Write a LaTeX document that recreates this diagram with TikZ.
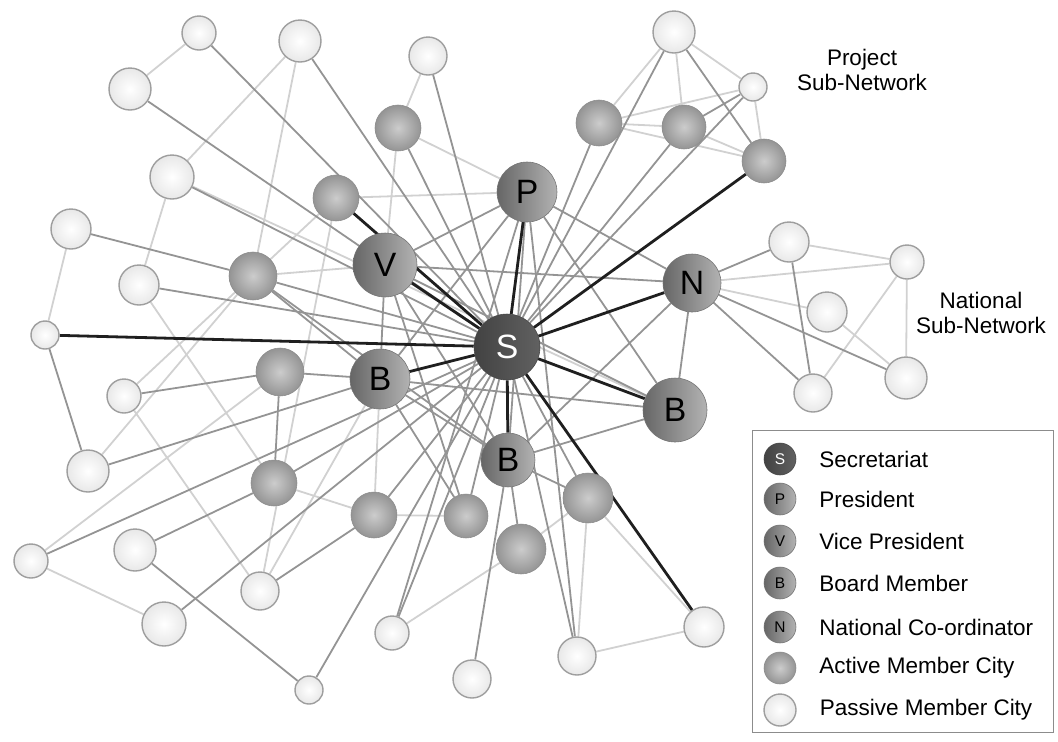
\documentclass[tikz,border=0pt]{standalone}
\usepackage{fontspec}
\setmainfont{Liberation Sans}
\usetikzlibrary{positioning}
\pgfdeclarelayer{bg}
\pgfsetlayers{bg,main}

\tikzset{
  city/.style={circle, inner sep=0pt, minimum size=#1*0.5mm},
  hub/.style={city=#1, draw=black!55, left color=black!60, right color=black!30, font=\fontsize{24}{24}\selectfont},
  sec/.style={city=#1, draw=black!72, left color=black!74, right color=black!62, text=white, font=\fontsize{24}{24}\selectfont},
  act/.style={city=#1, draw=black!45, inner color=black!20, outer color=black!42},
  pas/.style={city=#1, draw=black!38, inner color=white, outer color=black!9, line width=0.35mm},
  lg/.style={font=\fontsize{11}{11}\selectfont},
  lgtext/.style={font=\fontsize{16}{18}\selectfont, inner sep=0pt},
  dk/.style={black!88, line width=0.7mm},
  md/.style={black!42, line width=0.45mm},
  lt/.style={black!18, line width=0.45mm},
}

\begin{document}
\begin{tikzpicture}[x=0.25mm,y=-0.25mm]
\useasboundingbox (0,0) rectangle (1058,741);

% board and secretariat
\node[sec=33] (S) at (507,347) {S};
\node[hub=30] (P) at (527,192) {P};
\node[hub=32] (V) at (385,265) {V};
\node[hub=29] (N) at (692,283) {N};
\node[hub=30] (Ba) at (380,379) {B};
\node[hub=32] (Bb) at (675,410) {B};
\node[hub=27] (Bc) at (508,460) {B};

% active member cities
\node[act=23] (a1) at (398,128) {};
\node[act=23] (a2) at (599,123) {};
\node[act=22] (a3) at (684,127) {};
\node[act=22] (a4) at (764,161) {};
\node[act=23] (a5) at (336,198) {};
\node[act=24] (a6) at (253,276) {};
\node[act=24] (a7) at (280,372) {};
\node[act=23] (a8) at (274,483) {};
\node[act=23] (a9) at (374,515) {};
\node[act=22] (a10) at (466,516) {};
\node[act=25] (a11) at (521,549) {};
\node[act=25] (a12) at (588,498) {};

% passive member cities
\node[pas=17] (c1) at (199,33) {};
\node[pas=21] (c2) at (300,41) {};
\node[pas=21] (c3) at (130,89) {};
\node[pas=19] (c4) at (428,56) {};
\node[pas=21] (c5) at (674,32) {};
\node[pas=14] (c6) at (753,87) {};
\node[pas=22] (c7) at (172,177) {};
\node[pas=20] (c8) at (71,229) {};
\node[pas=20] (c9) at (139,285) {};
\node[pas=14] (c10) at (45,335) {};
\node[pas=17] (c11) at (124,396) {};
\node[pas=21] (c12) at (88,471) {};
\node[pas=17] (c13) at (31,561) {};
\node[pas=21] (c14) at (135,550) {};
\node[pas=22] (c15) at (164,624) {};
\node[pas=19] (c16) at (260,591) {};
\node[pas=14] (c17) at (309,690) {};
\node[pas=17] (c18) at (392,633) {};
\node[pas=19] (c19) at (472,679) {};
\node[pas=19] (c20) at (577,656) {};
\node[pas=20] (c21) at (704,627) {};
\node[pas=20] (c22) at (789,242) {};
\node[pas=17] (c23) at (907,262) {};
\node[pas=20] (c24) at (827,312) {};
\node[pas=19] (c25) at (813,393) {};
\node[pas=21] (c26) at (906,378) {};

\begin{pgfonlayer}{bg}
% light links
\draw[lt] (c1)--(c3) (c2)--(c7) (c2)--(a6) (c7)--(c9) (c8)--(c10) (c9)--(a8);
\draw[lt] (c11)--(c16) (c11)--(a5) (c12)--(a6) (c13)--(c15) (c13)--(a7);
\draw[lt] (c16)--(Ba) (a5)--(c16) (c7)--(Bb) (a1)--(c4) (a1)--(P) (a1)--(V) (a5)--(P);
\draw[lt] (a2)--(c5) (a2)--(a3) (a2)--(c6) (a2)--(a4) (a3)--(c5) (a3)--(a4) (a4)--(c6) (c5)--(c6);
\draw[lt] (a6)--(V) (a8)--(a9) (a9)--(a10) (a9)--(Ba) (c18)--(a11) (a11)--(a12);
\draw[lt] (a12)--(c20) (a12)--(c21) (c20)--(c21);
\draw[lt] (N)--(c23) (N)--(c24) (c22)--(c23) (c23)--(c25) (c23)--(c26) (c24)--(c26);
% mid links
\draw[md] (S)--(c1) (S)--(c2) (S)--(c3) (S)--(c4) (S)--(c5) (S)--(c6) (S)--(a1) (S)--(a2) (S)--(a3);
\draw[md] (S)--(c7) (S)--(a6) (S)--(c9) (S)--(c13) (S)--(c15) (S)--(c17) (S)--(c18) (S)--(c20);
\draw[md] (S)--(a8) (S)--(a9) (S)--(a10) (S)--(a12);
\draw[md] (P)--(V) (P)--(N) (P)--(Bb) (P)--(Ba) (P)--(Bc) (P)--(c18) (P)--(c20);
\draw[md] (V)--(N) (V)--(Ba) (V)--(Bc) (V)--(Bb) (V)--(a10);
\draw[md] (Ba)--(a7) (Ba)--(c12) (Ba)--(Bb) (Ba)--(Bc) (Ba)--(a10) (Ba)--(a6);
\draw[md] (N)--(Bb) (N)--(Bc) (N)--(c22) (N)--(c25) (N)--(c26) (c22)--(c25);
\draw[md] (Bb)--(Bc) (Bc)--(a11) (Bc)--(a12) (Bc)--(c19) (a6)--(Bc);
\draw[md] (a3)--(c6) (a4)--(c5) (c8)--(a6) (c10)--(c12) (c11)--(a7) (a7)--(a8);
\draw[md] (c14)--(a8) (c14)--(c17) (c16)--(a9);
% secretariat links
\draw[dk] (S)--(P) (S)--(V) (S)--(a5) (S)--(N) (S)--(Ba) (S)--(Bb) (S)--(Bc);
\draw[dk] (S)--(c10) (S)--(a4) (S)--(c21);
\end{pgfonlayer}

% sub-network labels
\node[lgtext, align=center] (proj) at (862,70) {Project\\Sub-Network};
\node[lgtext, align=center] (natl) at (981,313) {National\\Sub-Network};

% legend
\draw[black!45, line width=0.25mm] (752,430) rectangle (1053,732);
\node[sec=16, lg] (lgS) at (780,459) {S};
\node[hub=16, lg] (lgP) at (780,499) {P};
\node[hub=16, lg] (lgV) at (780,541) {V};
\node[hub=16, lg] (lgB) at (780,583) {B};
\node[hub=16, lg] (lgN) at (780,627) {N};
\node[act=16] (lgA) at (780,668) {};
\node[pas=16] (lgC) at (780,710) {};
\node[lgtext, right=5.7mm of lgS] {Secretariat};
\node[lgtext, right=5.7mm of lgP] {President};
\node[lgtext, right=5.7mm of lgV] {Vice President};
\node[lgtext, right=5.7mm of lgB] {Board Member};
\node[lgtext, right=5.7mm of lgN] {National Co-ordinator};
\node[lgtext, right=5.7mm of lgA] {Active Member City};
\node[lgtext, right=5.7mm of lgC] {Passive Member City};
\end{tikzpicture}
\end{document}
